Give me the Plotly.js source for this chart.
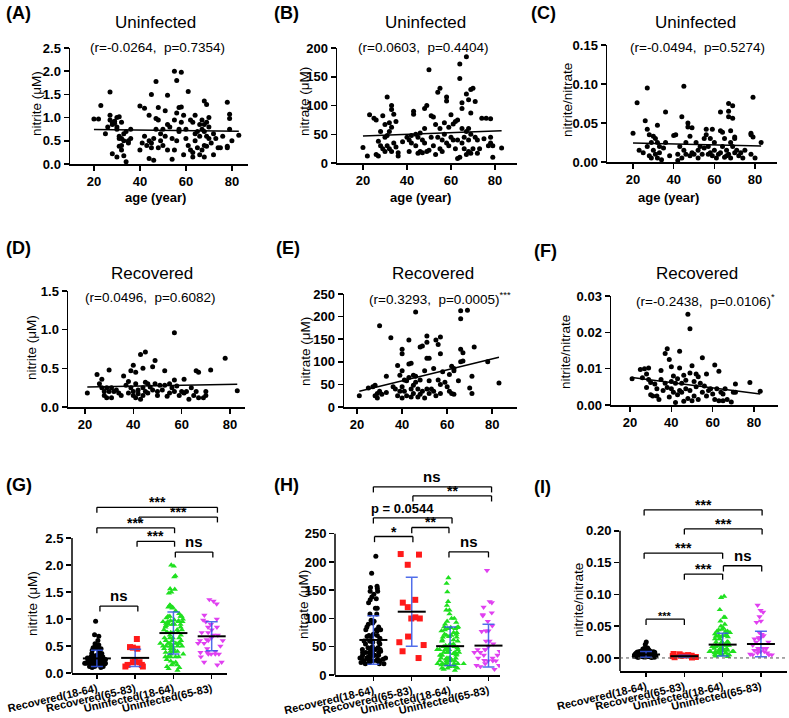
<!DOCTYPE html>
<html>
<head>
<meta charset="utf-8">
<script src="https://cdn.plot.ly/plotly-3.0.1.min.js"></script>
<style>
  body { margin: 0; background: #fff; }
  #chart { width: 789px; height: 718px; }
</style>
</head>
<body>
<div id="chart"></div>
<script>
// ---- data: [age, value] ----
const uninfNitrite = [[20,0.97],[22,0.97],[23,1.26],[25,0.65],[26,0.8],[27,1.55],[27,1.05],[27,0.95],[28,0.9],[28,0.85],[29,0.88],[29,0.92],[30,0.8],[30,0.75],[30,1.0],[31,1.02],[31,0.6],[31,0.55],[32,0.9],[32,0.4],[32,0.55],[33,0.65],[33,0.5],[34,0.7],[35,0.5],[36,0.75],[28,0.22],[30,0.15],[33,0.18],[34,0.05],[31,0.38],[32,0.3],[35,0.45],[36,0.55],
  [40,1.25],[40,0.3],[41,0.45],[42,1.2],[42,0.6],[43,0.4],[44,1.05],[44,0.5],[44,0.12],[45,0.35],[45,1.5],[45,0.45],[46,0.08],[46,0.55],[47,1.78],[47,0.75],[47,0.98],[48,0.35],[48,1.22],[48,0.95],[49,0.65],[49,0.5],[50,0.75],[50,0.4],[51,1.15],[51,0.6],[52,1.48],[52,0.85],[52,0.3],[53,0.8],[54,0.1],[54,0.55],[55,2.0],[55,0.95],[55,0.3],[56,1.8],[56,1.1],[56,0.5],[57,0.75],[57,1.22],[57,0.7],[58,1.98],[58,1.23],[58,0.9],[59,0.2],[59,1.05],[60,0.75],[60,0.55],[61,1.56],[61,0.4],[62,0.95],[62,0.3],[63,0.25],[63,0.15],[63,0.9],[64,1.05],[64,0.65],[64,0.5],
  [65,0.7],[65,0.35],[66,0.85],[66,0.6],[66,0.2],[67,0.95],[67,0.75],[67,0.3],[68,1.36],[68,0.85],[68,0.7],[68,0.4],[68,0.15],[69,1.28],[69,0.9],[69,0.6],[69,0.38],[70,0.8],[70,0.55],[70,1.0],[71,0.45],[72,0.2],[72,0.65],[73,0.55],[74,0.35],[75,0.35],[76,0.6],[78,1.33],[78,0.38],[78,0.35],[79,1.07],[79,0.98],[79,0.75],[80,0.5],[83,0.62]];

const uninfNitrate = [[20,27],[22,12],[23,84],[25,78],[26,15],[26,75],[27,12],[27,38],[28,30],[28,55],[29,82],[29,25],[30,45],[30,67],[30,20],[31,115],[31,48],[31,30],[32,70],[32,55],[32,25],[33,100],[33,93],[33,62],[33,20],[34,85],[34,35],[35,72],[35,28],[36,18],[36,12],[38,37],
  [40,45],[41,40],[41,20],[42,48],[42,35],[43,90],[43,85],[44,50],[44,30],[45,45],[45,17],[46,52],[46,20],[47,40],[47,18],[48,95],[48,60],[48,35],[49,100],[49,20],[50,162],[50,22],[51,82],[51,45],[52,80],[52,30],[53,67],[53,15],[54,123],[54,45],[55,130],[55,60],[55,25],[56,40],[56,20],[57,70],[57,50],[58,115],[58,108],[58,35],[59,62],[59,30],[60,84],[60,45],[61,68],[61,40],[62,72],[62,25],[63,75],[63,40],[63,8],[64,172],[64,147],[64,10],
  [65,105],[65,95],[65,60],[65,35],[66,45],[66,25],[67,185],[67,120],[67,55],[67,15],[68,110],[68,60],[68,40],[68,20],[69,128],[69,87],[69,50],[69,17],[70,130],[70,25],[71,107],[71,45],[72,17],[72,40],[73,25],[74,78],[75,42],[76,78],[77,30],[78,77],[78,45],[78,35],[79,30],[79,10],[83,26]];

const uninfRatio = [[20,0.037],[22,0.076],[23,0.015],[25,0.012],[26,0.053],[27,0.095],[27,0.042],[27,0.02],[28,0.035],[28,0.008],[29,0.025],[29,0.005],[30,0.033],[30,0.015],[31,0.03],[31,0.01],[32,0.047],[32,0.025],[32,0.005],[33,0.02],[33,0.012],[34,0.003],[35,0.018],[36,0.064],[36,0.025],[38,0.008],
  [40,0.034],[41,0.035],[42,0.01],[42,0.002],[43,0.02],[44,0.058],[44,0.005],[45,0.097],[45,0.015],[46,0.01],[46,0.025],[47,0.05],[47,0.045],[48,0.033],[48,0.008],[49,0.044],[49,0.012],[50,0.01],[51,0.025],[52,0.015],[52,0.005],[53,0.02],[54,0.01],[55,0.03],[55,0.018],[56,0.035],[56,0.042],[57,0.02],[57,0.01],[58,0.012],[58,0.03],[59,0.042],[59,0.008],[60,0.025],[60,0.015],[61,0.005],[62,0.01],[63,0.064],[63,0.04],[63,0.012],[64,0.038],[64,0.02],
  [65,0.03],[65,0.006],[66,0.015],[66,0.008],[67,0.058],[67,0.075],[67,0.065],[67,0.01],[68,0.025],[68,0.04],[68,0.005],[69,0.072],[69,0.056],[69,0.02],[70,0.03],[70,0.032],[70,0.012],[71,0.015],[72,0.008],[73,0.012],[74,0.005],[75,0.015],[78,0.037],[78,0.035],[78,0.01],[79,0.083],[79,0.032],[80,0.005],[83,0.025]];

const recNitrite = [[21,0.18],[25,0.42],[26,0.3],[27,0.36],[27,0.25],[28,0.2],[28,0.15],[29,0.25],[29,0.12],[30,0.48],[30,0.2],[31,0.25],[31,0.12],[32,0.2],[33,0.22],[34,0.18],[35,0.15],[36,0.4],[37,0.28],[38,0.33],[38,0.18],[39,0.47],[39,0.25],[40,0.54],[40,0.2],[40,0.15],[41,0.45],[41,0.3],[41,0.12],[42,0.22],[42,0.17],[43,0.68],[43,0.1],[44,0.5],[44,0.25],[44,0.15],[45,0.71],[45,0.32],[45,0.2],[46,0.3],[46,0.18],[47,0.26],[48,0.52],[48,0.22],[49,0.6],[49,0.3],[50,0.2],[50,0.15],[51,0.28],[52,0.22],[53,0.47],[53,0.28],[54,0.14],[55,0.3],[55,0.18],[56,0.25],[57,0.96],[57,0.35],[57,0.2],[58,0.27],[59,0.15],[60,0.2],[61,0.36],[61,0.18],[62,0.2],[63,0.1],[64,0.25],
  [65,0.15],[66,0.47],[66,0.2],[67,0.45],[67,0.12],[69,0.12],[70,0.2],[70,0.15],[72,0.48],[78,0.63],[83,0.21]];

const recNitrate = [[21,25],[25,42],[27,45],[28,48],[28,25],[29,30],[29,20],[30,180],[30,35],[31,28],[33,68],[33,32],[35,153],[36,45],[37,40],[38,25],[38,92],[39,70],[39,35],[40,128],[40,118],[40,80],[40,45],[40,20],[41,60],[41,35],[42,58],[42,25],[43,148],[43,95],[43,65],[44,97],[44,40],[44,22],[45,70],[45,48],[45,30],[46,210],[46,68],[46,55],[47,40],[47,22],[48,133],[48,60],[48,28],[49,135],[49,35],[50,80],[50,20],[51,157],[51,143],[51,108],[51,40],[52,108],[52,58],[52,30],[53,40],[54,85],[54,35],[55,148],[55,25],[56,138],[56,60],[57,155],[57,118],[57,50],[57,30],[58,78],[59,55],[60,45],[61,72],[61,35],[62,90],[62,30],[63,85],[63,80],[63,28],
  [65,58],[66,213],[66,195],[66,128],[66,100],[67,120],[67,102],[69,214],[70,42],[71,68],[71,30],[72,133],[78,100],[83,53]];

const recRatio = [[21,0.0072],[25,0.0098],[26,0.0075],[27,0.01],[28,0.0085],[28,0.0048],[29,0.0102],[29,0.007],[30,0.0028],[30,0.0062],[31,0.0025],[32,0.0058],[33,0.0045],[33,0.0025],[34,0.0015],[35,0.007],[35,0.0095],[36,0.004],[37,0.006],[37,0.0142],[38,0.0155],[38,0.0048],[39,0.0125],[39,0.0022],[40,0.0105],[40,0.0065],[40,0.0045],[41,0.008],[41,0.0035],[42,0.006],[42,0.0007],[43,0.0072],[43,0.0028],[44,0.0148],[44,0.0102],[44,0.004],[45,0.006],[45,0.0035],[46,0.0082],[46,0.001],[47,0.0068],[47,0.0045],[48,0.025],[48,0.0018],[49,0.021],[49,0.0088],[49,0.004],[50,0.0108],[50,0.0012],[51,0.0065],[51,0.0025],[52,0.0085],[52,0.005],[53,0.0078],[53,0.0015],[54,0.006],[55,0.013],[55,0.0035],[56,0.0052],[57,0.0085],[57,0.0025],[58,0.004],[59,0.0045],[60,0.003],[61,0.011],[61,0.0015],[62,0.0045],[63,0.0093],[63,0.0012],[64,0.0035],
  [65,0.003],[65,0.0012],[66,0.0045],[67,0.0015],[69,0.0008],[70,0.0035],[71,0.0058],[71,0.0035],[78,0.0062],[83,0.0038]];

// regression lines (end points)
const fitUninfNitrite = [[20,0.745],[83,0.705]];
const fitUninfNitrate = [[20,47],[83,56]];
const fitUninfRatio = [[20,0.0243],[83,0.0205]];
const fitRecNitrite = [[21,0.26],[83,0.295]];
const fitRecNitrate = [[21,35],[83,110]];
const fitRecRatio = [[21,0.0076],[83,0.003]];

// group summary (mean, SD) for G/H/I
const groupNames = ['Recovered(18-64)', 'Recovered(65-83)', 'Uninfected(18-64)', 'Uninfected(65-83)'];
const groupColors = ['#000000', '#ff1a1a', '#1fe01f', '#e040f0'];
const groupSymbols = ['circle', 'square', 'triangle-up', 'triangle-down'];
const groupSizes = [5, 6, 5.5, 5.5];
const meanNitrite = [0.27, 0.28, 0.74, 0.68];
const sdNitrite = [0.15, 0.16, 0.39, 0.27];
const meanNitrate = [62, 112, 51, 52];
const sdNitrate = [43, 61, 34, 38];
const meanRatio = [0.0055, 0.0028, 0.021, 0.022];
const sdRatio = [0.0045, 0.0015, 0.018, 0.02];

// significance brackets: [from, to, height, label]
const bracketsG = [[0,3.15,3.07,'***'],[1.1,3.15,2.89,'***'],[0,2.03,2.69,'***'],[1.05,2.03,2.44,'***'],[2.05,3.03,2.24,'ns'],[0.08,1.07,1.24,'ns']];
const bracketsH = [[0,3.08,333,'ns'],[1.03,3.08,317,'**'],[0,2.05,278,'p = 0.0544'],[1,1.97,261,'**'],[0.03,1.03,245,'*'],[1.97,3,218,'ns']];
const bracketsI = [[-0.05,3.03,0.233,'***'],[1,3.03,0.203,'***'],[-0.05,2,0.165,'***'],[1,2,0.132,'***'],[2.02,3.02,0.145,'ns'],[0,1,0.061,'***']];

const ticksNitrite = [0, 0.5, 1.0, 1.5, 2.0, 2.5];
const ticksNitriteRec = [0, 0.5, 1.0, 1.5];
const ticksNitrate200 = [0, 50, 100, 150, 200];
const ticksNitrate250 = [0, 50, 100, 150, 200, 250];
const ticksRatio15 = [0, 0.05, 0.10, 0.15];
const ticksRatio03 = [0, 0.01, 0.02, 0.03];
const ticksRatio20 = [0, 0.05, 0.10, 0.15, 0.20];
const ageTicks = [20, 40, 60, 80];

// ---- layout helpers ----
const W = 789, H = 718;
const FONT = 'Arial, "Liberation Sans", sans-serif';
const px = p => p / W;
const py = p => 1 - p / H;

const traces = [];
const shapes = [];
const annotations = [];
const layout = {
  width: W, height: H,
  margin: {l: 0, r: 0, t: 0, b: 0},
  paper_bgcolor: 'white', plot_bgcolor: 'white',
  showlegend: false,
  font: {family: FONT, color: 'black'}
};

function axName(n, a) { return a + 'axis' + (n === 1 ? '' : n); }
function axRef(n, a) { return a + (n === 1 ? '' : n); }

const baseAxis = {
  ticks: 'outside', ticklen: 5, tickwidth: 1.5, tickcolor: 'black',
  showline: true, linewidth: 1.5, linecolor: 'black',
  showgrid: false, zeroline: false,
  tickfont: {family: FONT, size: 13, weight: 'bold', color: 'black'}
};

// scatter panels A-F
const scatterPanels = [
  {n: 1, pts: uninfNitrite, fit: fitUninfNitrite, dx: [70, 248], dy: [48, 164], xr: [9.6, 87], yr: [0, 2.5], tv: ticksNitrite, fmt: '.1f'},
  {n: 2, pts: uninfNitrate, fit: fitUninfNitrate, dx: [337, 517], dy: [48, 163], xr: [8.2, 90], yr: [0, 200], tv: ticksNitrate200, fmt: 'd'},
  {n: 3, pts: uninfRatio, fit: fitUninfRatio, dx: [607, 777], dy: [45, 162], xr: [7.2, 90.8], yr: [0, 0.15], tv: ticksRatio15, fmt: '.2f'},
  {n: 4, pts: recNitrite, fit: fitRecNitrite, dx: [68, 245], dy: [291, 407], xr: [13, 86.2], yr: [0, 1.5], tv: ticksNitriteRec, fmt: '.1f'},
  {n: 5, pts: recNitrate, fit: fitRecNitrate, dx: [344, 517], dy: [294, 407], xr: [14.2, 91], yr: [0, 250], tv: ticksNitrate250, fmt: 'd'},
  {n: 6, pts: recRatio, fit: fitRecRatio, dx: [611, 778], dy: [296, 405], xr: [10.8, 91.6], yr: [0, 0.03], tv: ticksRatio03, fmt: '.2f'}
];

scatterPanels.forEach(p => {
  layout[axName(p.n, 'x')] = Object.assign({}, baseAxis, {
    domain: [px(p.dx[0]), px(p.dx[1])], range: p.xr, tickvals: ageTicks,
    anchor: axRef(p.n, 'y')
  });
  layout[axName(p.n, 'y')] = Object.assign({}, baseAxis, {
    domain: [py(p.dy[1]), py(p.dy[0])], range: p.yr, tickvals: p.tv, tickformat: p.fmt,
    anchor: axRef(p.n, 'x')
  });
  traces.push({
    type: 'scatter', mode: 'markers',
    x: p.pts.map(d => d[0]), y: p.pts.map(d => d[1]),
    xaxis: axRef(p.n, 'x'), yaxis: axRef(p.n, 'y'),
    marker: {color: 'black', size: 5}, cliponaxis: false
  });
  traces.push({
    type: 'scatter', mode: 'lines',
    x: p.fit.map(d => d[0]), y: p.fit.map(d => d[1]),
    xaxis: axRef(p.n, 'x'), yaxis: axRef(p.n, 'y'),
    line: {color: 'black', width: 1.5}
  });
});

// dot plots G-I
function splitByAge(pts, old) {
  return pts.filter(d => old ? d[0] >= 65 : d[0] <= 64).map(d => d[1]);
}

const dotPanels = [
  {n: 7, groups: [splitByAge(recNitrite, false), splitByAge(recNitrite, true), splitByAge(uninfNitrite, false), splitByAge(uninfNitrite, true)],
   mean: meanNitrite, sd: sdNitrite, br: bracketsG, drop: 0.1,
   dx: [72, 227], dy: [503, 673], xr: [-0.65, 3.4], yr: [0, 3.15], top: 2.5, tv: ticksNitrite, fmt: '.1f'},
  {n: 8, groups: [splitByAge(recNitrate, false), splitByAge(recNitrate, true), splitByAge(uninfNitrate, false), splitByAge(uninfNitrate, true)],
   mean: meanNitrate, sd: sdNitrate, br: bracketsH, drop: 10,
   dx: [335, 500], dy: [480, 675], xr: [-1.0, 3.3], yr: [0, 345], top: 250, tv: ticksNitrate250, fmt: 'd'},
  {n: 9, groups: [splitByAge(recRatio, false), splitByAge(recRatio, true), splitByAge(uninfRatio, false), splitByAge(uninfRatio, true)],
   mean: meanRatio, sd: sdRatio, br: bracketsI, drop: 0.009, zeroLine: true,
   dx: [620, 787], dy: [499, 671], xr: [-0.68, 3.68], yr: [-0.0205, 0.25], top: 0.2, tv: ticksRatio20, fmt: '.2f'}
];

dotPanels.forEach(p => {
  const xa = axRef(p.n, 'x'), ya = axRef(p.n, 'y');
  layout[axName(p.n, 'x')] = Object.assign({}, baseAxis, {
    domain: [px(p.dx[0]), px(p.dx[1])], type: 'category',
    categoryorder: 'array', categoryarray: groupNames, range: p.xr,
    tickangle: -13, ticklen: 4, anchor: ya,
    tickfont: {family: FONT, size: 11, weight: 'bold', color: 'black'}
  });
  layout[axName(p.n, 'y')] = Object.assign({}, baseAxis, {
    domain: [py(p.dy[1]), py(p.dy[0])], range: p.yr, tickvals: p.tv, tickformat: p.fmt,
    showline: false, anchor: xa
  });
  // y axis line only up to the top tick
  shapes.push({type: 'line', xref: xa + ' domain', yref: ya, x0: 0, x1: 0, y0: p.yr[0], y1: p.top,
    line: {color: 'black', width: 1.5}});
  if (p.zeroLine) {
    shapes.push({type: 'line', xref: xa + ' domain', yref: ya, x0: 0, x1: 1, y0: 0, y1: 0,
      line: {color: '#555', width: 1, dash: 'dot'}});
  }
  p.groups.forEach((vals, g) => {
    traces.push({
      type: 'box', x: vals.map(() => groupNames[g]), y: vals,
      xaxis: xa, yaxis: ya,
      boxpoints: 'all', jitter: 1, pointpos: 0, width: 0.8,
      fillcolor: 'rgba(0,0,0,0)', line: {width: 0, color: 'rgba(0,0,0,0)'},
      marker: {color: groupColors[g], symbol: groupSymbols[g], size: groupSizes[g]},
      hoveron: 'points'
    });
  });
  traces.push({
    type: 'scatter', mode: 'markers', x: groupNames, y: p.mean,
    xaxis: xa, yaxis: ya, cliponaxis: false,
    marker: {symbol: 'line-ew', size: 20, color: 'black', line: {width: 2, color: 'black'}},
    error_y: {type: 'data', array: p.sd, color: 'rgba(50,85,230,0.85)', thickness: 1.5, width: 6}
  });
  p.br.forEach(b => {
    const [x0, x1, y, label] = b;
    const ln = {color: 'black', width: 1.3};
    shapes.push({type: 'line', xref: xa, yref: ya, x0: x0, x1: x1, y0: y, y1: y, line: ln});
    shapes.push({type: 'line', xref: xa, yref: ya, x0: x0, x1: x0, y0: y, y1: y - p.drop, line: ln});
    shapes.push({type: 'line', xref: xa, yref: ya, x0: x1, x1: x1, y0: y, y1: y - p.drop, line: ln});
    const stars = label.indexOf('*') === 0;
    const small = p.n === 9 && y < 0.1;
    const longLabel = label.length > 3;
    annotations.push({
      xref: xa, yref: ya, x: (x0 + x1) / 2, y: y, text: label, showarrow: false,
      xanchor: 'center', yanchor: 'bottom', yshift: stars ? -5 : 0, xshift: longLabel ? -10 : 0,
      font: {family: FONT, size: small ? 11 : (longLabel ? 13 : (stars ? 14 : 15)), weight: 'bold', color: 'black'}
    });
  });
});

// ---- text placed in pixels ----
function note(text, x, y, size, opts) {
  annotations.push(Object.assign({
    xref: 'paper', yref: 'paper', x: px(x), y: py(y), text: text, showarrow: false,
    xanchor: 'center', yanchor: 'middle',
    font: {family: FONT, size: size, color: 'black'}
  }, opts || {}));
}

const letters = [['(A)', 4, 13], ['(B)', 272, 13], ['(C)', 529, 13], ['(D)', 4, 248], ['(E)', 274, 248], ['(F)', 532, 251], ['(G)', 4, 485], ['(H)', 272, 485], ['(I)', 532, 487]];
letters.forEach(l => note(l[0], l[1], l[2], 18, {xanchor: 'left', font: {family: FONT, size: 18, weight: 'bold', color: 'black'}}));

const titles = [['Uninfected', 155, 23], ['Uninfected', 425, 23], ['Uninfected', 695, 23], ['Recovered', 152, 273], ['Recovered', 433, 273], ['Recovered', 697, 273]];
titles.forEach(t => note(t[0], t[1], t[2], 17));

const stats = [['(r=-0.0264,  p=0.7354)', 157, 47], ['(r=0.0603,  p=0.4404)', 423, 48], ['(r=-0.0494,  p=0.5274)', 697, 47],
  ['(r=0.0496,  p=0.6082)', 150, 297], ['(r=0.3293,  p=0.0005)<sup>***</sup>', 440, 298], ['(r=-0.2438,  p=0.0106)<sup>*</sup>', 705, 300]];
stats.forEach(s => note(s[0], s[1], s[2], 13.5));

const xTitles = [['age (year)', 155, 197], ['age (year)', 420, 197], ['age (year)', 668, 197]];
xTitles.forEach(t => note(t[0], t[1], t[2], 13, {font: {family: FONT, size: 13, weight: 'bold', color: 'black'}}));

const yTitles = [['nitrite (μM)', 36, 104], ['nitrate (μM)', 305, 102], ['nitrite/nitrate', 567, 100],
  ['nitrite (μM)', 31, 348], ['nitrate (μM)', 306, 352], ['nitrite/nitrate', 566, 352],
  ['nitrite (μM)', 32, 603], ['nitrate (μM)', 303, 605], ['nitrite/nitrate', 578, 600]];
yTitles.forEach(t => note(t[0], t[1], t[2], 13.5, {textangle: -90}));

layout.shapes = shapes;
layout.annotations = annotations;

Plotly.newPlot('chart', traces, layout, {displayModeBar: false, staticPlot: true});
</script>
</body>
</html>
